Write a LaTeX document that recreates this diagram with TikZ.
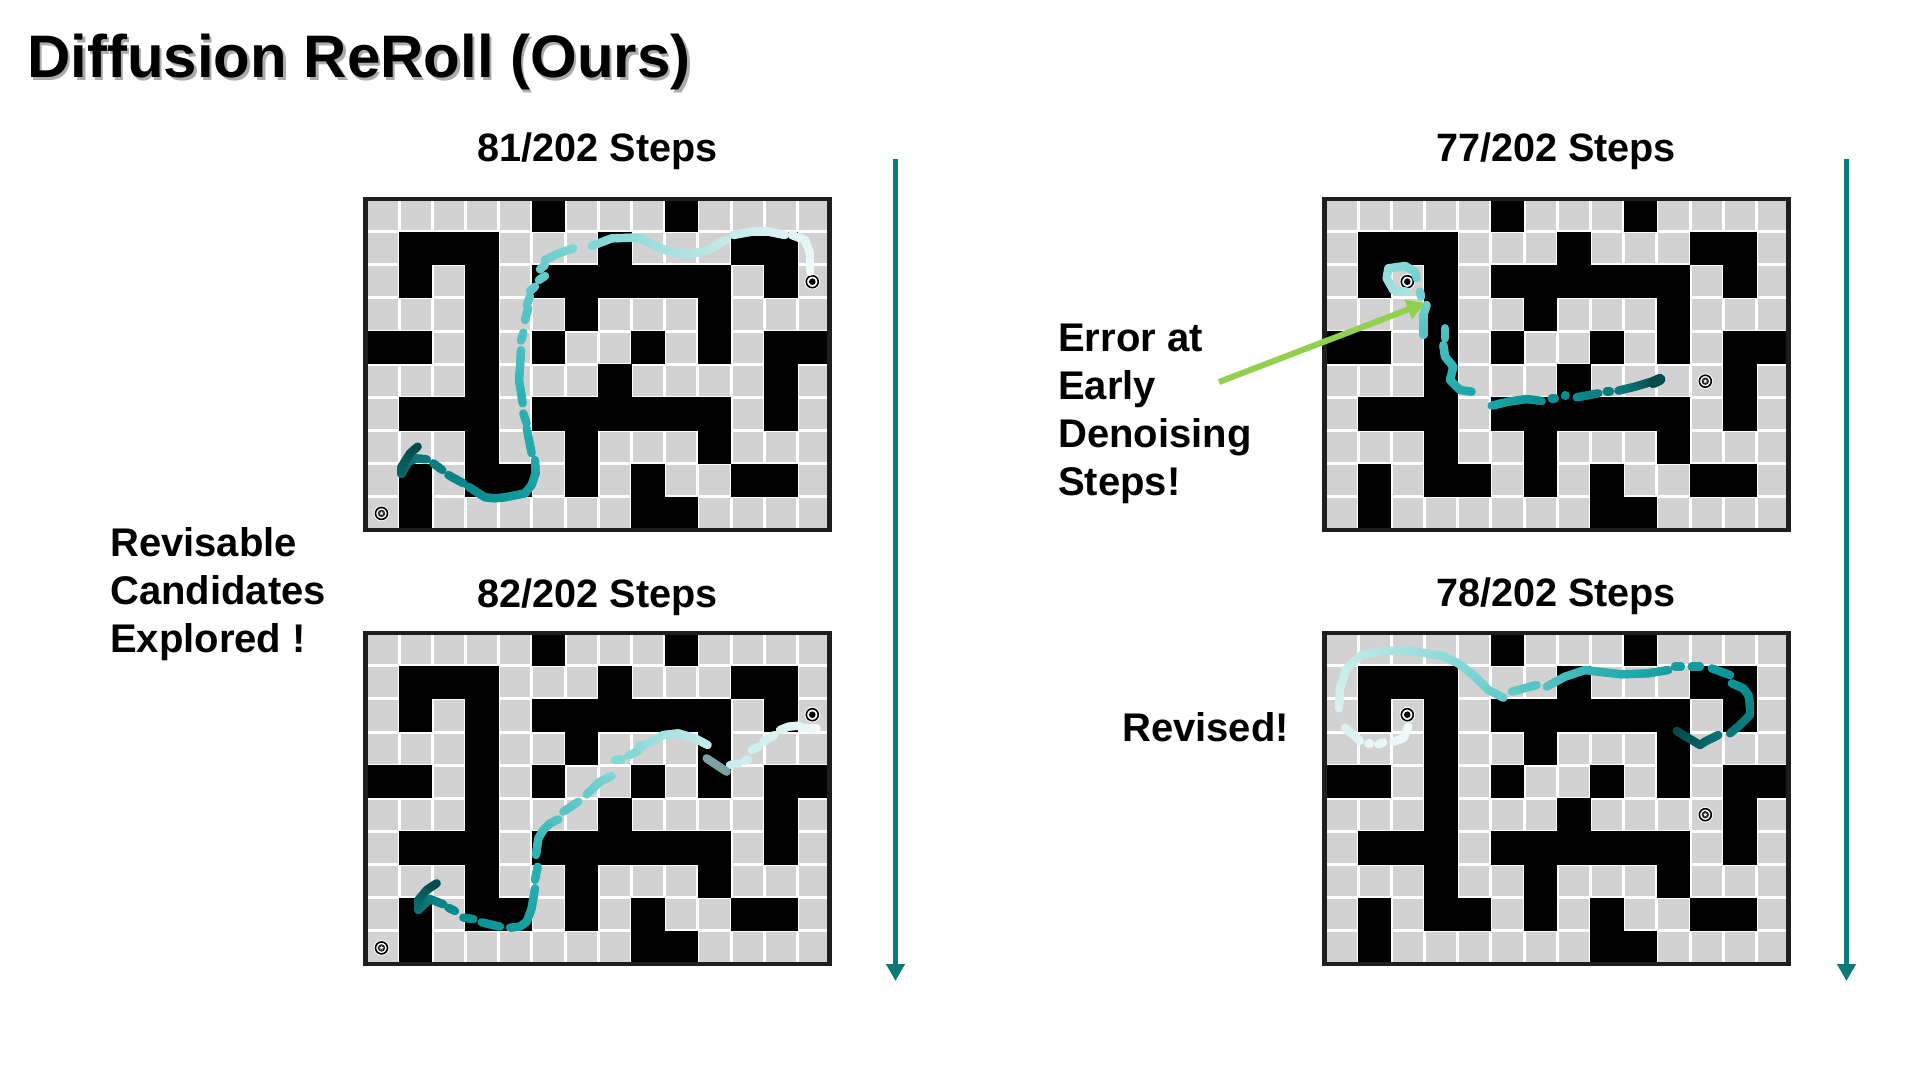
\documentclass[tikz,border=0pt]{standalone}
\usepackage{fontspec}
\setmainfont{Liberation Sans}
\usetikzlibrary{arrows.meta,shapes.geometric}

% Colour ramp of a planned trajectory, light at its start and dark at its end
\definecolor{rampA}{HTML}{F4FBFB}
\definecolor{rampB}{HTML}{BCE8E7}
\definecolor{rampC}{HTML}{7FD6D6}
\definecolor{rampD}{HTML}{2DB2B4}
\definecolor{rampE}{HTML}{0A9598}
\definecolor{rampF}{HTML}{0B7476}
\definecolor{rampG}{HTML}{054B4D}
\definecolor{cellgrey}{HTML}{D2D2D2}
\definecolor{frameline}{HTML}{1E1E1E}
\definecolor{timeteal}{HTML}{0B7B78}
\definecolor{errorgreen}{HTML}{92D050}
\definecolor{fadedteal}{HTML}{7CA3A3}

\newcommand\rampmix[3]{% lower stop, upper stop, percent towards the upper stop
  \pgfmathsetmacro\rampkeep{100-(#3)}%
  \colorlet{trajcolor}{#1!\rampkeep!#2}}
\newcommand\setrampcolor[1]{% position along the ramp, 0 to 100
  \pgfmathsetmacro\rampt{#1}%
  \ifdim\rampt pt<20pt
    \rampmix{rampA}{rampB}{\rampt*5}%
  \else\ifdim\rampt pt<40pt
    \rampmix{rampB}{rampC}{(\rampt-20)*5}%
  \else\ifdim\rampt pt<62pt
    \rampmix{rampC}{rampD}{(\rampt-40)*100/22}%
  \else\ifdim\rampt pt<80pt
    \rampmix{rampD}{rampE}{(\rampt-62)*100/18}%
  \else\ifdim\rampt pt<92pt
    \rampmix{rampE}{rampF}{(\rampt-80)*100/12}%
  \else
    \rampmix{rampF}{rampG}{min(100,(\rampt-92)*100/8)}%
  \fi\fi\fi\fi\fi}

% A trajectory: points x/y/pen, pen 0 lifts the brush before the point.
% The brush colour follows the arc length along the whole list; the optional
% argument is where on the ramp the trajectory begins.
\newcommand\trajectory[2][0]{%
  \xdef\trajtotal{0}\xdef\trajlastx{0}\xdef\trajlasty{0}%
  \foreach \tx/\ty/\tp in {#2}{%
    \ifnum\tp=1
      \pgfmathparse{\trajtotal+veclen(\tx-\trajlastx,\ty-\trajlasty)}%
      \xdef\trajtotal{\pgfmathresult}%
    \fi
    \xdef\trajlastx{\tx}\xdef\trajlasty{\ty}}%
  \xdef\trajpos{0}%
  \foreach \tx/\ty/\tp in {#2}{%
    \ifnum\tp=1
      \pgfmathsetmacro\seglen{veclen(\tx-\trajlastx,\ty-\trajlasty)}%
      \pgfmathtruncatemacro\segparts{max(1,ceil(\seglen/9))}%
      \foreach \k in {1,...,\segparts}{%
        \pgfmathsetmacro\ax{\trajlastx+(\k-1)/\segparts*(\tx-\trajlastx)}%
        \pgfmathsetmacro\ay{\trajlasty+(\k-1)/\segparts*(\ty-\trajlasty)}%
        \pgfmathsetmacro\bx{\trajlastx+\k/\segparts*(\tx-\trajlastx)}%
        \pgfmathsetmacro\by{\trajlasty+\k/\segparts*(\ty-\trajlasty)}%
        \pgfmathsetmacro\trajfrac{(\trajpos+(\k-0.5)/\segparts*\seglen)/\trajtotal}%
        \setrampcolor{#1+(100-#1)*\trajfrac}%
        \draw[brush,color=trajcolor] (\ax,\ay) -- (\bx,\by);}%
      \pgfmathparse{\trajpos+\seglen}\xdef\trajpos{\pgfmathresult}%
    \fi
    \xdef\trajlastx{\tx}\xdef\trajlasty{\ty}}}

% Maze cells, drawn with the top-left corner of the frame at the origin
\newcommand\mazeboard{%
  \fill[white] (0,0) rectangle (468.3,335);
  \foreach \row/\cols in {
    0/{0,1,2,3,4,6,7,8,10,11,12,13},
    1/{0,4,5,6,8,9,10,13},
    2/{0,2,4,11,13},
    3/{0,1,2,4,5,7,8,9,11,12,13},
    4/{2,4,6,7,9,11},
    5/{0,1,2,4,5,6,8,9,10,11,13},
    6/{0,4,11,13},
    7/{0,1,2,4,5,7,8,9,11,12,13},
    8/{0,2,5,7,9,10,13},
    9/{0,2,3,4,5,6,7,10,11,12,13}}{
    \foreach \col in \cols {
      \fill[cellgrey] ({2.5+\col*33.2+1.5},{1.9+\row*33.13+1.5})
        rectangle ++(30.2,30.13);}}
  \foreach \row/\cols in {
    0/{5,9},
    1/{1,2,3,7,11,12},
    2/{1,3,5,6,7,8,9,10,12},
    3/{3,6,10},
    4/{0,1,3,5,8,10,12,13},
    5/{3,7,12},
    6/{1,2,3,5,6,7,8,9,10,12},
    7/{3,6,10},
    8/{1,3,4,6,8,11,12},
    9/{1,8,9}}{
    \foreach \col in \cols {
      \fill[black] ({2.5+\col*33.2},{1.9+\row*33.13})
        rectangle ++(33.3,33.23);}}
  \draw[frameline,line width=4.2pt] (2.1,2.1) rectangle (466.2,332.9);}

% Start marker: ringed dot; goal marker: ringed star
\newcommand\startmark[1]{%
  \fill[white] (#1) circle (7.8);
  \draw[black,line width=1.6pt] (#1) circle (6);
  \fill[black] (#1) circle (3.3);}
\newcommand\goalmark[1]{%
  \fill[white] (#1) circle (7.8);
  \draw[black,line width=1.6pt] (#1) circle (6);
  \fill[black!85] (#1) circle (3.7);
  \node[star,star points=5,star point ratio=2.4,fill=white,inner sep=0pt,minimum size=4.4pt] at (#1) {};}

\tikzset{
  brush/.style={line width=8.4pt,line cap=round,line join=round},
  heading/.style={font=\bfseries\fontsize{39.6}{44}\selectfont,anchor=base,inner sep=0pt},
  remark/.style={font=\bfseries\fontsize{40}{48}\selectfont,align=left,anchor=north west,inner sep=0pt},
  timeaxis/.style={timeteal,line width=5.6pt,-{Triangle[length=17pt,width=18pt]}},
  zoomed/.style={x=0.33333pt,y=-0.33333pt}
}

\begin{document}
\begin{tikzpicture}[x=1pt,y=-1pt]
\useasboundingbox (0,0) rectangle (1920,1080);
\fill[white] (0,0) rectangle (1920,1080);

% Slide title with its soft drop shadow
\node[font=\bfseries\fontsize{60}{70}\selectfont,anchor=base west,inner sep=0pt,black!55,opacity=.6] at (29.5,80) {Diffusion ReRoll (Ours)};
\node (title) [font=\bfseries\fontsize{60}{70}\selectfont,anchor=base west,inner sep=0pt] at (27,77) {Diffusion ReRoll (Ours)};

% Step counts above the four mazes
\node (h1) [heading] at (597.5,161.5) {81/202 Steps};
\node (h2) [heading] at (597.5,607.5) {82/202 Steps};
\node (h3) [heading] at (1556,161.5) {77/202 Steps};
\node (h4) [heading] at (1556,606.5) {78/202 Steps};

% Side remarks
\node (r1) [remark] at (110,527) {Revisable\\Candidates\\Explored !};
\node (r2) [remark] at (1058,323.5) {Error at\\Early\\Denoising\\Steps!};
\node (r3) [remark,anchor=base west] at (1122,741.5) {Revised!};

% Upper left maze
\begin{scope}[shift={(363.3pt,-196.7pt)}]
  \mazeboard
  \goalmark{18.2,316.7}
  \startmark{449,85}
\end{scope}
\begin{scope}[shift={(355pt,-190pt)},zoomed]
  \trajectory{1365/245/0,1365/190/1,1350/150/1,1310/135/1,1290/135/0,1240/125/1,1190/125/1,1135/135/1,1115/148/0,1060/180/1,1010/192/1,950/188/1,880/158/1,855/145/1,830/143/1,770/145/1,710/168/1,655/175/0,610/190/1,570/210/1,570/225/0,555/238/1,570/258/0,552/270/1,540/290/0,525/303/1,525/320/0,515/345/1,520/355/0,510/390/1,505/428/0,498/452/1,498/480/0,495/530/1,492/570/1,497/600/1,503/640/1,505/670/0,515/700/1,515/715/0,530/790/1,540/810/0,542/850/1,530/885/1,510/910/1,450/922/1,420/925/1,390/922/1,340/890/1,325/880/0,280/855/1,262/840/0,235/820/1,215/808/0,185/805/1,160/815/1,140/852/1,140/830/1,165/790/1,188/770/1}
\end{scope}

% Lower left maze
\begin{scope}[shift={(363.3pt,-630.7pt)}]
  \mazeboard
  \goalmark{18.2,317.2}
  \startmark{449,84}
\end{scope}
\begin{scope}[shift={(355pt,-625pt)},zoomed]
  \trajectory{1385/310/0,1340/308/1,1330/302/1,1300/305/1,1275/315/1,1258/330/0,1225/350/1,1210/365/0,1190/375/1,1180/403/0,1170/407/1,1150/415/0,1125/420/1,1058/360/0,1020/340/1,970/325/1,925/330/1,890/350/1,850/370/1,855/360/1,850/378/1,820/392/1,800/403/0,780/405/1,770/453/0,735/470/1,695/508/1,670/530/0,625/560/1,610/583/0,585/595/1,565/615/1,550/640/1,543/690/1,548/725/0,540/765/1,540/790/0,530/850/1,515/890/1,495/905/1,465/908/1,435/905/0,380/892/1,355/882/0,325/878/1,300/858/0,280/848/1,265/838/0,225/822/1,190/855/1,190/825/1,215/795/1,245/775/1}
  \draw[brush,fadedteal] (1115,440) -- (1055,400);
\end{scope}

% Upper right maze
\begin{scope}[shift={(1322.3pt,-196.7pt)}]
  \mazeboard
  \startmark{85,85}
  \goalmark{383,184.5}
\end{scope}
\begin{scope}[shift={(1315pt,-190pt)},zoomed]
  \trajectory[25]{275/305/0,235/300/1,215/265/1,220/235/1,270/228/1,300/245/1,305/265/1,315/305/0,318/320/1,335/345/0,325/375/1,325/435/1,390/415/0,390/445/1,385/465/0,390/500/1,415/530/1,405/570/1,435/600/1,470/605/1,530/647/0,580/635/1,635/627/1,680/633/1,710/625/0,720/625/1,750/617/0,752/617/1,785/622/0,850/610/1,875/605/0,885/605/1,910/602/0,960/590/1,1010/575/1,1035/565/1}
  \draw[brush,rampG,line width=11pt] (1015,578) -- (1035,568);
\end{scope}

% Lower right maze
\begin{scope}[shift={(1322.3pt,-630.7pt)}]
  \mazeboard
  \startmark{85,84}
  \goalmark{383,184}
\end{scope}
\begin{scope}[shift={(1315pt,-625pt)},zoomed]
  \trajectory{280/305/0,265/340/1,235/350/1,205/352/0,190/358/1,165/355/0,160/355/1,135/348/0,115/330/1,90/308/1,72/250/0,75/190/1,95/130/1,140/90/1,210/77/1,300/80/1,380/92/1,430/115/1,480/155/1,520/195/1,565/218/1,590/200/0,665/180/1,695/185/0,750/155/1,810/135/1,850/140/1,920/148/1,1000/145/1,1060/135/1,1080/125/0,1098/125/1,1130/125/0,1155/125/1,1190/130/0,1245/150/1,1250/175/0,1285/190/1,1300/210/1,1303/225/1,1305/250/1,1305/270/1,1270/305/1,1245/325/1,1210/330/0,1170/350/1,1155/360/1,1130/345/1,1085/318/1}
\end{scope}

% Denoising-time axes
\coordinate (axisLtop) at (895.5,159);
\coordinate (axisLend) at (895.5,981);
\coordinate (axisRtop) at (1846.5,159);
\coordinate (axisRend) at (1846.5,981);
\draw[timeaxis] (axisLtop) -- (axisLend);
\draw[timeaxis] (axisRtop) -- (axisRend);

% Pointer to the early error
\coordinate (errorfrom) at (1219,382);
\coordinate (errortip) at (1425,303);
\draw[errorgreen,line width=6pt,-{Triangle[length=18pt,width=20pt]}] (errorfrom) -- (errortip);
\end{tikzpicture}
\end{document}
